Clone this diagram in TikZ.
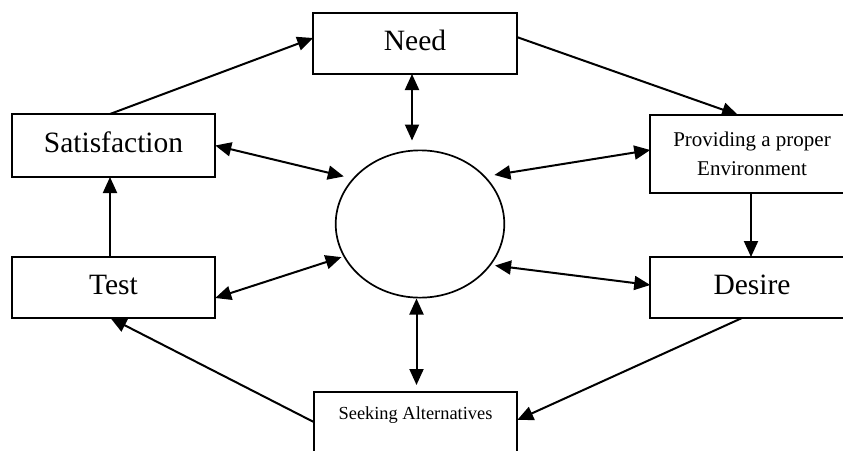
\documentclass[tikz,border=0pt]{standalone}
\usepackage{fontspec}
\setmainfont{Liberation Serif}
\usetikzlibrary{arrows.meta,shapes.geometric,backgrounds}
\begin{document}
\begin{tikzpicture}[x=1pt,y=-1pt,
 box/.style={draw, line width=1.7pt, rectangle, inner sep=0pt, outer sep=0pt, fill=white, minimum width=203.5pt, align=center},
 big/.style={font=\fontsize{29.5}{34}\selectfont, text height=19.7pt, text depth=6.4pt},
 arr/.style={line width=2pt, -{Triangle[length=16pt,width=14pt]}},
 dbl/.style={line width=2pt, {Triangle[length=16pt,width=14pt]}-{Triangle[length=16pt,width=14pt]}}]
\useasboundingbox (0,0) rectangle (843,450);
\node[box, big, minimum height=61pt] (need) at (415,43.5) {Need};
\node[box, big, minimum height=63pt] (sat) at (113.5,145.5) {Satisfaction};
\node[box, big, minimum height=61pt] (test) at (113.5,287.5) {Test};
\node[box, big, minimum height=61pt] (desire) at (752,287.5) {Desire};
\node[box, font=\fontsize{21}{29}\selectfont, minimum height=78pt] (prov) at (752,154) {Providing a proper\\Environment};
\node[box, font=\fontsize{18.4}{22}\selectfont, text height=27pt, text depth=60pt, anchor=north] (seek) at (415.5,392) {Seeking Alternatives};
\node[draw, ellipse, line width=1.7pt, minimum width=168.6pt, minimum height=147.3pt, inner sep=0pt] (c) at (420,224) {};
\begin{scope}[on background layer]
\draw[arr] ([xshift=-3.5pt]sat.north) -- ([yshift=5.5pt]need.west);
\draw[arr] ([yshift=6.5pt]need.east) -- ([xshift=-14pt]prov.north);
\draw[arr] ([xshift=-1pt]prov.south) -- ([xshift=-1pt]desire.north);
\draw[arr] ([xshift=-10pt]desire.south) -- ([yshift=-28pt]seek.north east);
\draw[arr] ([yshift=-30pt]seek.north west) -- ([xshift=-3pt]test.south);
\draw[arr] ([xshift=-3.5pt]test.north) -- ([xshift=-3.5pt]sat.south);
\draw[dbl, shorten >=9pt] ([xshift=-3pt]need.south) -- ([xshift=-3pt]need.south |- c.north);
\draw[dbl, shorten >=7pt] ([xshift=1pt]seek.north |- c.south) -- ([xshift=1pt]seek.north);
\draw[dbl, shorten >=9pt] (sat.east) -- (c.146);
\draw[dbl, shorten >=2pt] ([yshift=-10.5pt]test.east) -- (c.203);
\draw[dbl, shorten >=9pt] ([yshift=4pt]prov.west) -- (c.36.5);
\draw[dbl, shorten >=4pt] ([yshift=2.5pt]desire.west) -- (c.-30);
\end{scope}
\end{tikzpicture}
\end{document}
